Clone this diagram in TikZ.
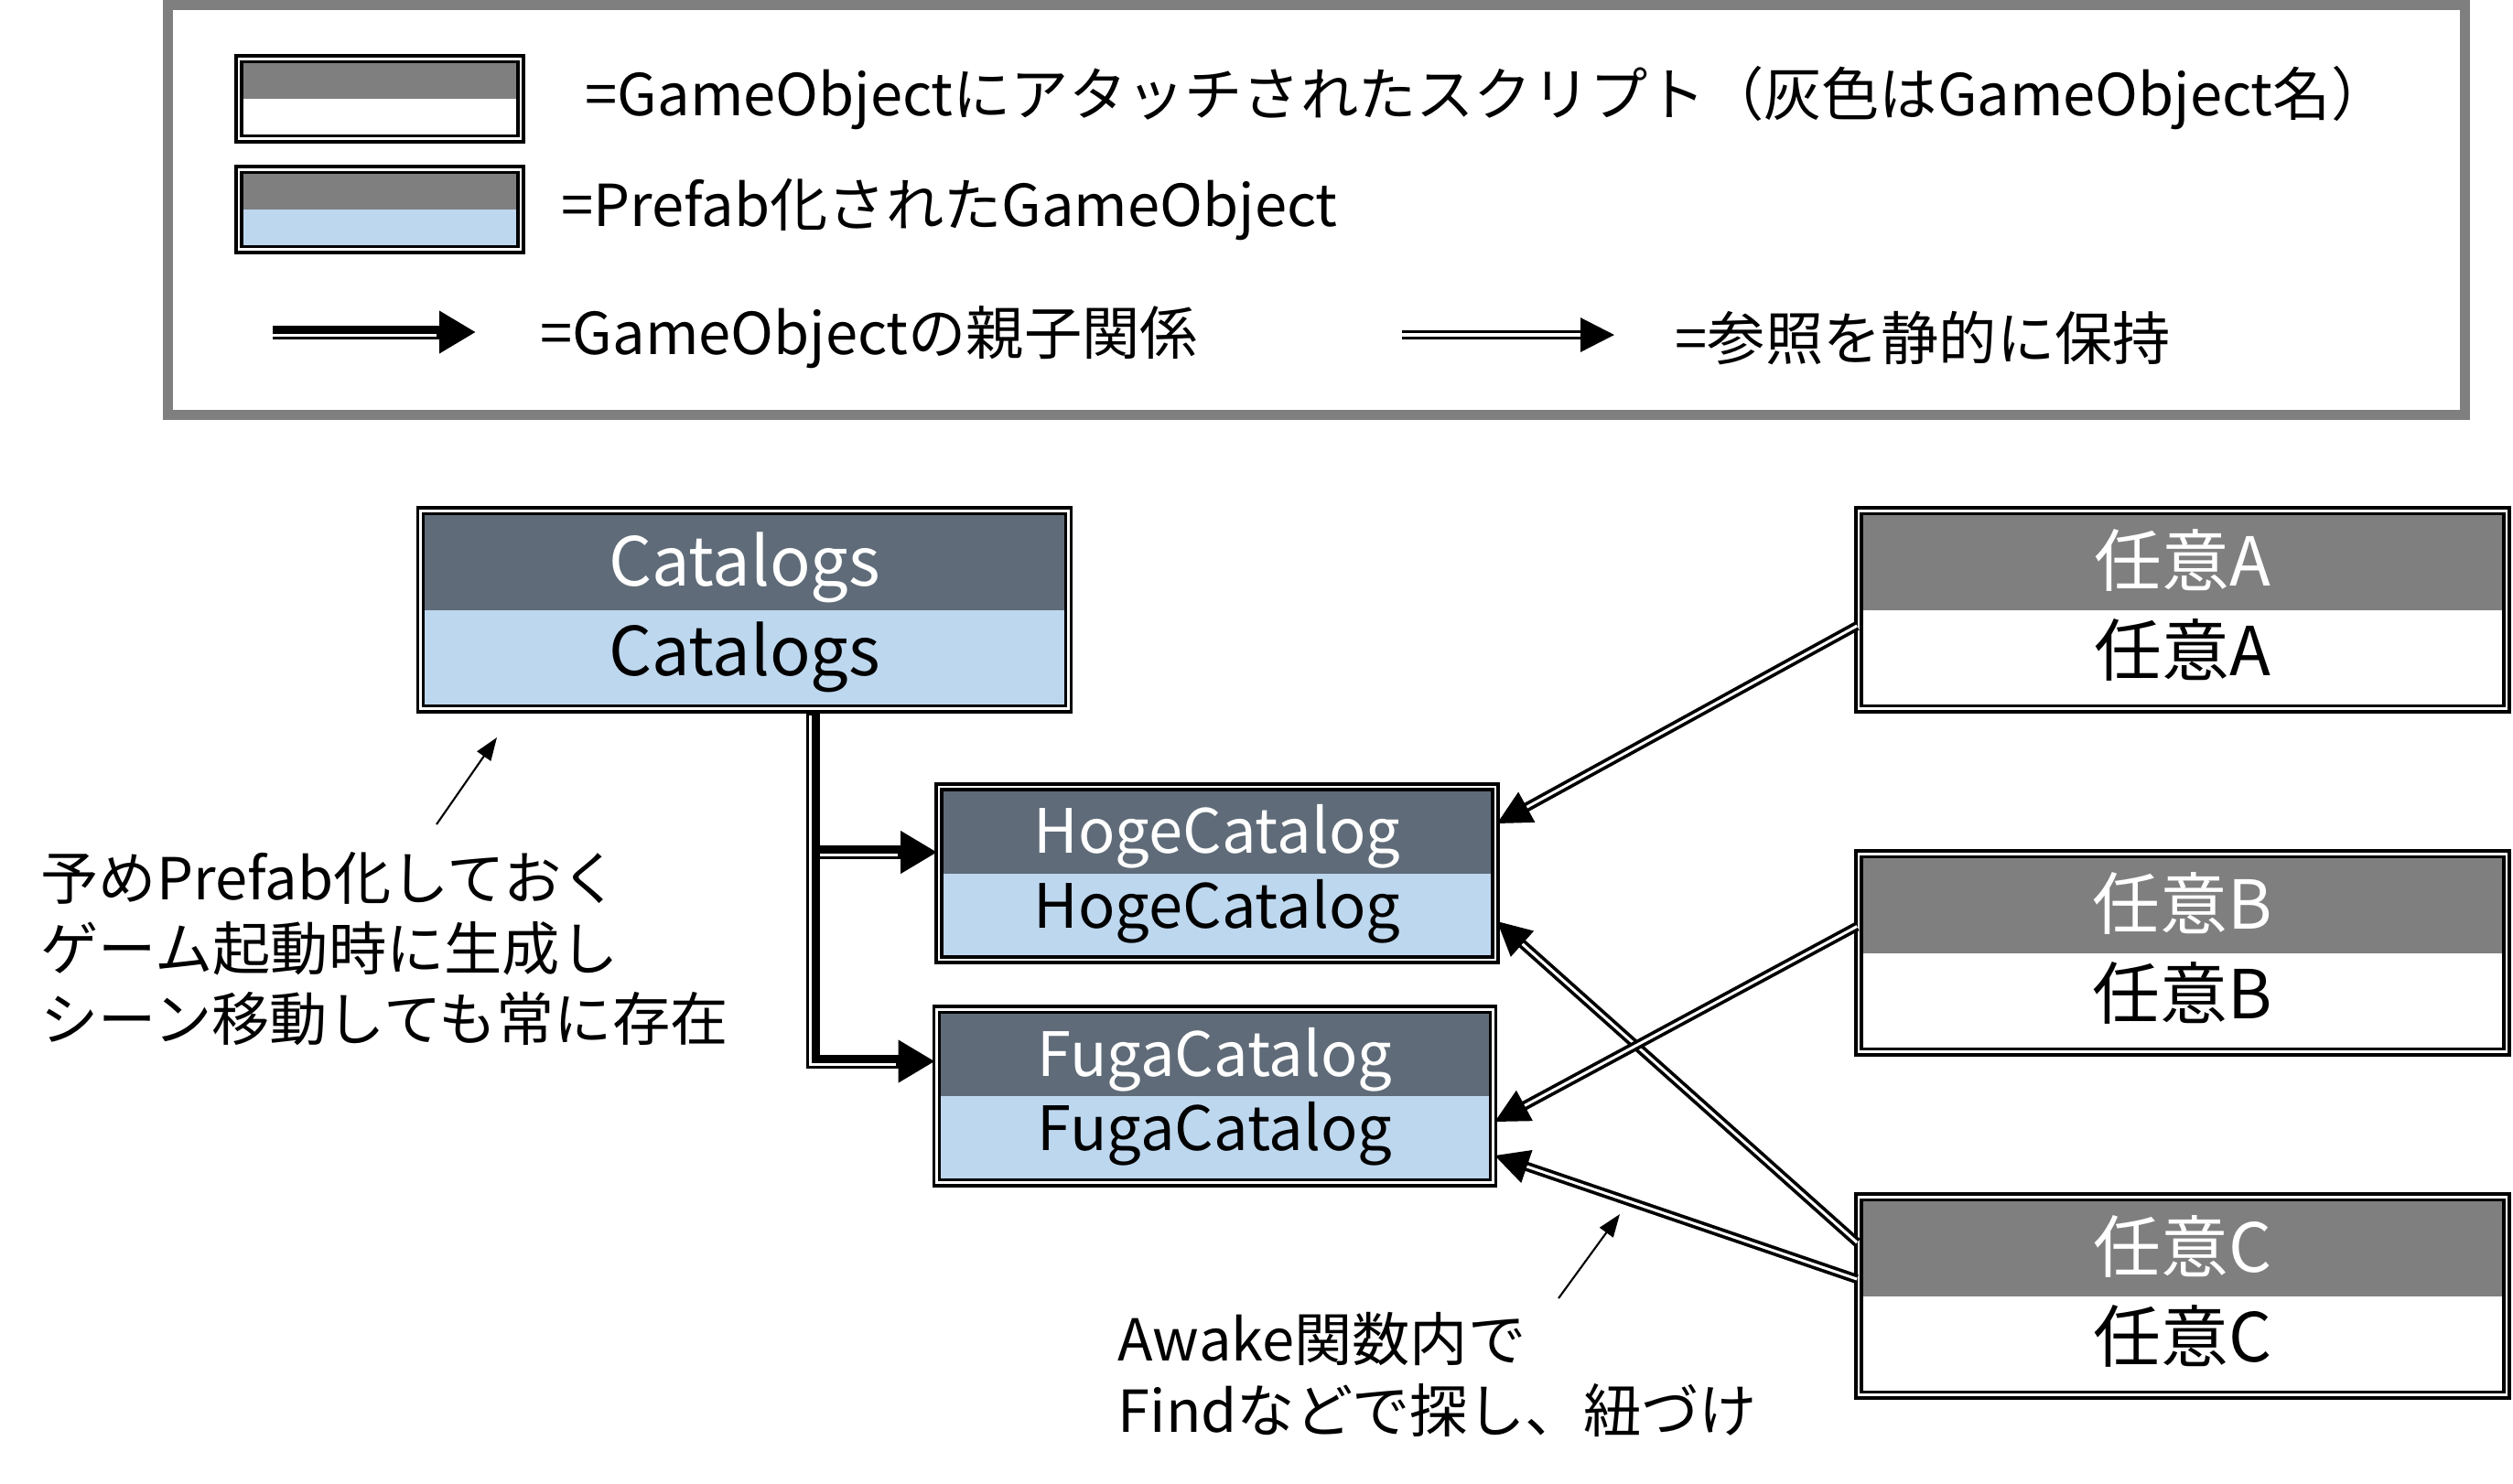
\documentclass[tikz,border=0pt]{standalone}
\usepackage{fontspec}
\setmainfont{Noto Sans CJK JP}
\usetikzlibrary{shapes.multipart,arrows.meta}
\definecolor{slate}{HTML}{5F6B78}
\definecolor{paleblue}{HTML}{BDD7EE}
\definecolor{midgray}{HTML}{7F7F7F}
\newcommand\bighead{\rule[-0.24cm]{0pt}{1.045cm}}
\newcommand\bigbody{\rule[-0.345cm]{0pt}{1.045cm}}
\newcommand\smallhead{\rule[-0.2cm]{0pt}{0.91cm}}
\newcommand\smallbody{\rule[-0.33cm]{0pt}{0.91cm}}
\newcommand\legpart{\rule{0pt}{0.4cm}}
\begin{document}
\begin{tikzpicture}[
  twopart/.style={rectangle split, rectangle split parts=2, rectangle split draw splits=false,
    draw, double, line width=1.05pt, double distance=0.7pt, inner xsep=0pt, inner ysep=0pt, align=center},
  bigbox/.style={twopart, text width=7.08cm, font=\fontsize{21pt}{25pt}\selectfont},
  smallbox/.style={twopart, text width=6.08cm, font=\fontsize{19pt}{23pt}\selectfont},
  legbox/.style={twopart, text width=3.08cm},
  script/.style={rectangle split part fill={midgray,white}},
  prefab/.style={rectangle split part fill={slate,paleblue}},
  childline/.style={line width=4.27pt, -{Triangle[length=4mm,width=4.4mm]},
    postaction={draw=white, line width=0.85pt, -, shorten >=4mm, shorten <=0.3mm,
      transform canvas={xshift=-0.3mm,yshift=-0.3mm}}},
  refline/.style={double, line width=1.05pt, double distance=0.85pt, -{Triangle[length=3.7mm,width=3.7mm]}},
  memo/.style={align=left, inner sep=0pt, font=\fontsize{18pt}{22pt}\selectfont},
  memoarrow/.style={line width=0.6pt, -{Triangle[length=2.5mm,width=1.8mm]}}
]
\useasboundingbox (0,0) rectangle (27.46,-16.21);
\draw[midgray, line width=0.11cm] (1.835,-0.055) rectangle (26.935,-4.535);

\node[legbox, script] (legscript) at (4.15,-1.08) {\legpart\nodepart{two}\legpart};
\node[memo, anchor=west] (legscripttxt) at (6.39,-1.07) {=GameObjectにアタッチされたスクリプト（灰色はGameObject名）};
\node[legbox, rectangle split part fill={midgray,paleblue}] (legprefab) at (4.15,-2.29) {\legpart\nodepart{two}\legpart};
\node[memo, anchor=west] (legprefabtxt) at (6.13,-2.29) {=Prefab化されたGameObject};
\coordinate (legchildA) at (2.98,-3.63);
\coordinate (legchildB) at (5.20,-3.63);
\draw[childline] (legchildA) -- (legchildB);
\node[memo, anchor=west] (legchildtxt) at (5.90,-3.69) {=GameObjectの親子関係};
\coordinate (legrefA) at (15.32,-3.66);
\coordinate (legrefB) at (17.64,-3.66);
\draw[refline, line width=0.9pt, double distance=1pt] (legrefA) -- (legrefB);
\node[memo, anchor=west] (legreftxt) at (18.30,-3.70) {=参照を静的に保持};

\node[bigbox, prefab] (cat) at (8.135,-6.665) {\bighead\textcolor{white}{Catalogs}\nodepart{two}\bigbody Catalogs};
\node[smallbox, prefab] (hoge) at (13.30,-9.545) {\smallhead\textcolor{white}{HogeCatalog}\nodepart{two}\smallbody HogeCatalog};
\node[smallbox, prefab] (fuga) at (13.275,-11.98) {\smallhead\textcolor{white}{FugaCatalog}\nodepart{two}\smallbody FugaCatalog};
\node[bigbox, script] (anyA) at (23.85,-6.665) {\bighead\textcolor{white}{任意A}\nodepart{two}\bigbody 任意A};
\node[bigbox, script] (anyB) at (23.85,-10.415) {\bighead\textcolor{white}{任意B}\nodepart{two}\bigbody 任意B};
\node[bigbox, script] (anyC) at (23.85,-14.165) {\bighead\textcolor{white}{任意C}\nodepart{two}\bigbody 任意C};

\coordinate (trunk) at (8.88,-7.76);
\draw[childline] (trunk) |- ([yshift=2.3mm]hoge.west);
\draw[childline] (trunk) |- ([yshift=3.8mm]fuga.west);

\draw[refline] ([yshift=-1.75mm]anyA.west) -- ([yshift=5.45mm]hoge.east);
\draw[refline] ([yshift=5.85mm]anyC.west) -- ([yshift=-5.25mm]hoge.east);
\draw[refline] ([yshift=2.9mm]anyB.west) -- ([yshift=-2.8mm]fuga.east);
\draw[refline] ([yshift=1.85mm]anyC.west) -- ([yshift=-6.5mm]fuga.east);

\node[memo, anchor=west] (prefabmemo) at (0.44,-10.37) {予めPrefab化しておく\\ゲーム起動時に生成し\\シーン移動しても常に存在};
\coordinate (prefabmemoA) at (4.77,-9.01);
\coordinate (prefabmemoB) at (5.43,-8.06);
\draw[memoarrow] (prefabmemoA) -- (prefabmemoB);
\node[memo, anchor=west] (findmemo) at (12.21,-15.025) {Awake関数内で\\Findなどで探し、紐づけ};
\coordinate (findmemoA) at (17.03,-14.19);
\coordinate (findmemoB) at (17.70,-13.27);
\draw[memoarrow] (findmemoA) -- (findmemoB);
\end{tikzpicture}
\end{document}
